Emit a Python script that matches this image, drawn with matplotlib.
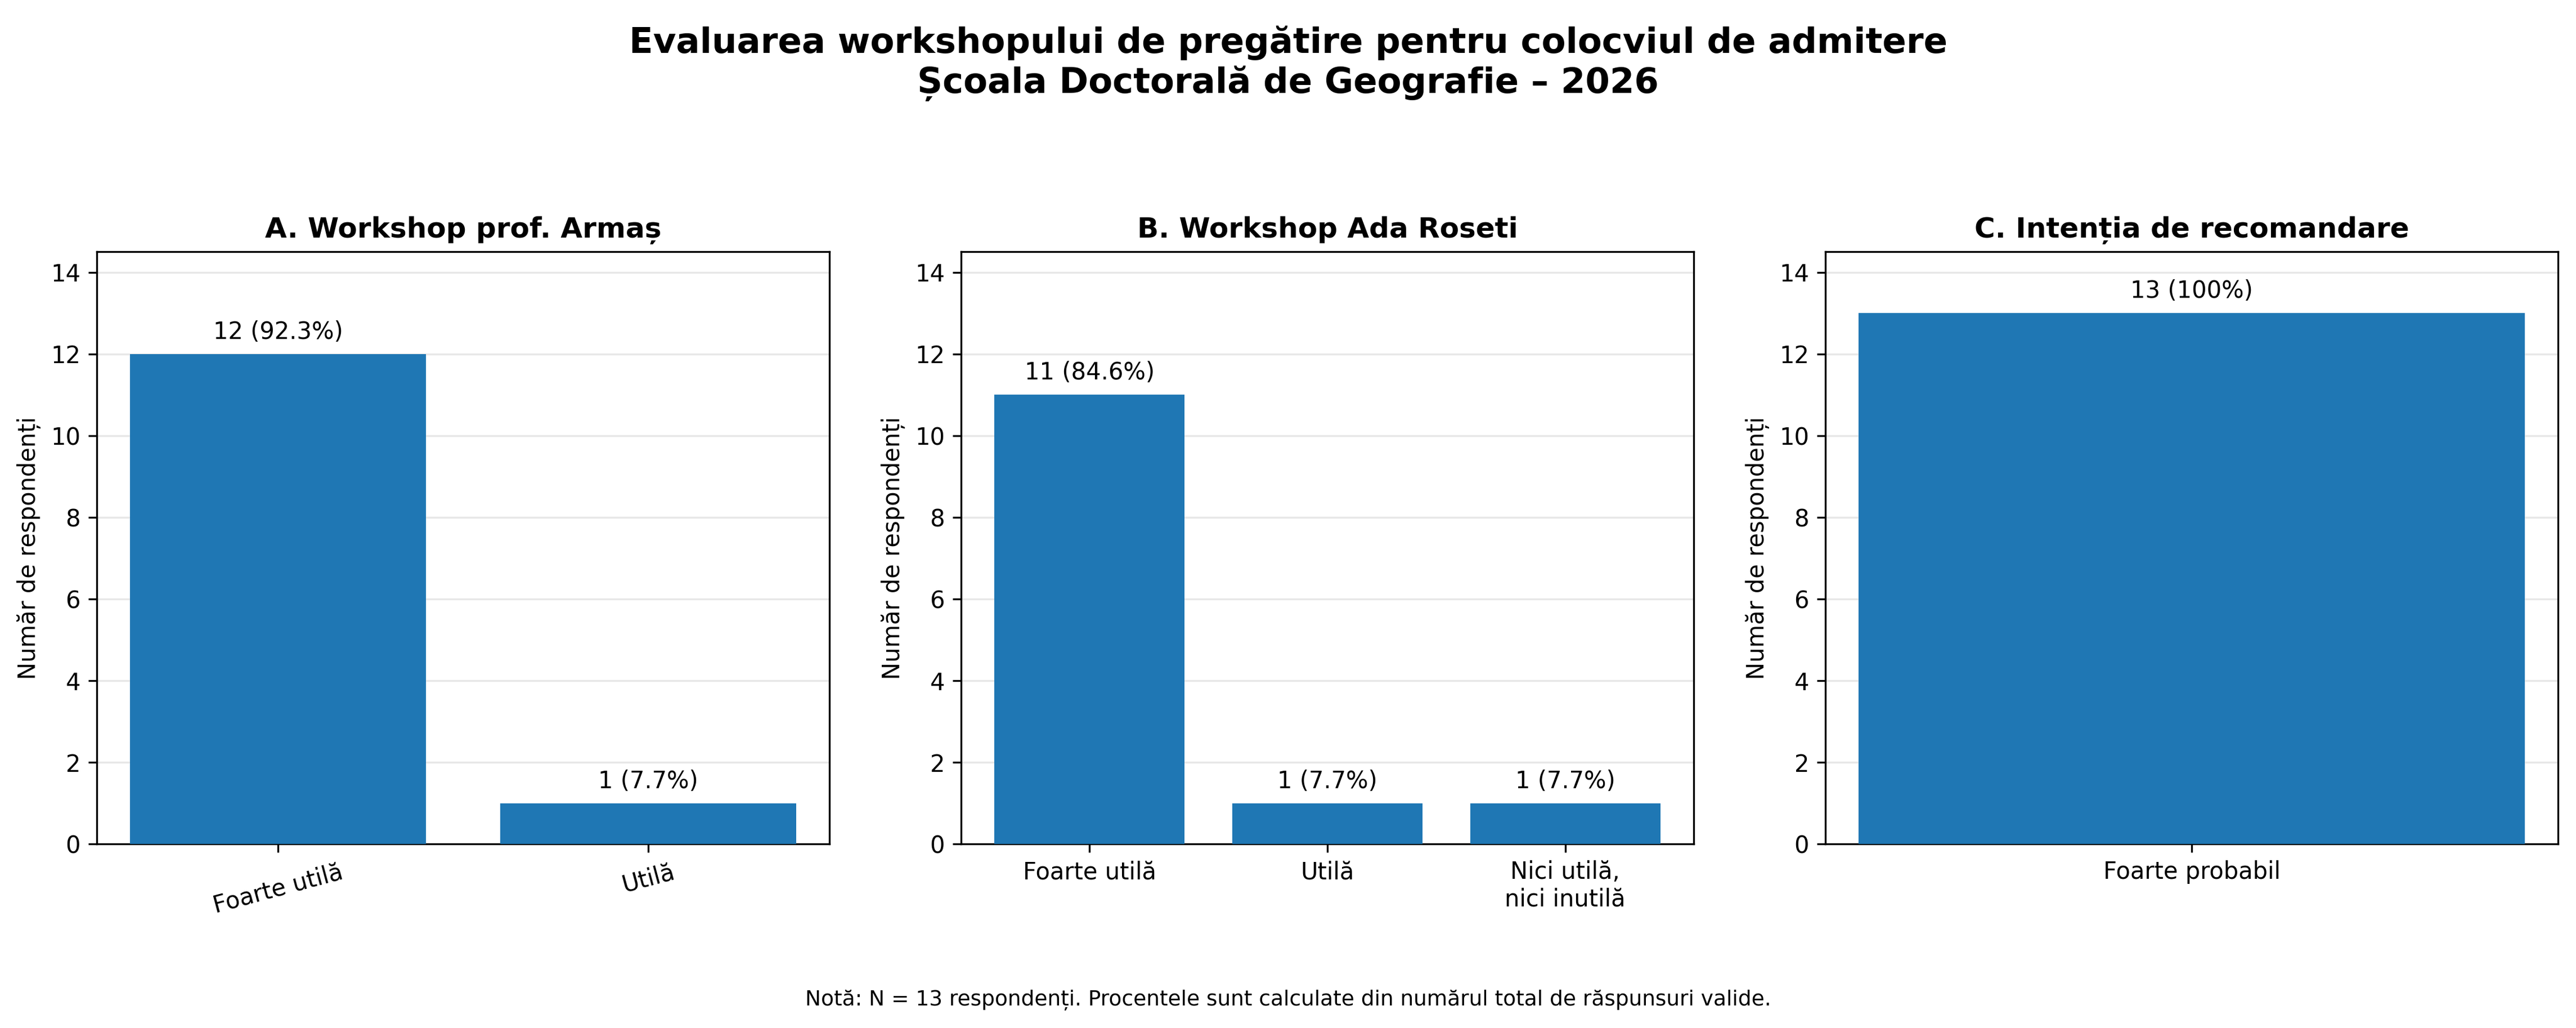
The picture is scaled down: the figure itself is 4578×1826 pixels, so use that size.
import matplotlib.pyplot as plt

# Date sondaj (N = 13)
total = 13

cat_a = ['Foarte utilă', 'Utilă']
val_a = [12, 1]

cat_b = ['Foarte utilă', 'Utilă', 'Nici utilă,\nnici inutilă']
val_b = [11, 1, 1]

cat_c = ['Foarte probabil']
val_c = [13]

titles = ['A. Workshop prof. Armaș', 'B. Workshop Ada Roseti', 'C. Intenția de recomandare']

fig, axes = plt.subplots(1, 3, figsize=(15.26, 6.087))
fig.subplots_adjust(left=0.0376, right=0.993, bottom=0.179, top=0.755, wspace=0.18)


def draw_panel(ax, cats, vals, title, rot=0):
    ax.bar(cats, vals, color='#1f77b4', zorder=3)
    for i, v in enumerate(vals):
        pct = v / total * 100
        txt = f"{v} ({pct:.0f}%)" if pct == 100 else f"{v} ({pct:.1f}%)"
        ax.text(i, v + 0.25, txt, ha='center', va='bottom', fontsize=10)
    ax.set_title(title, fontsize=12, fontweight='bold', pad=6)
    ax.set_ylabel('Număr de respondenți', fontsize=10)
    ax.set_ylim(0, 14.5)
    ax.set_yticks(range(0, 15, 2))
    ax.grid(axis='y', alpha=0.3, zorder=0)
    if rot:
        plt.setp(ax.get_xticklabels(), rotation=rot)


draw_panel(axes[0], cat_a, val_a, titles[0], rot=15)
draw_panel(axes[1], cat_b, val_b, titles[1])
draw_panel(axes[2], cat_c, val_c, titles[2])

fig.suptitle('Evaluarea workshopului de pregătire pentru colocviul de admitere\n'
             'Școala Doctorală de Geografie – 2026',
             fontsize=15, fontweight='bold', y=0.975)

fig.text(0.5, 0.022, 'Notă: N = 13 respondenți. Procentele sunt calculate din numărul total de răspunsuri valide.',
         ha='center', fontsize=9)

plt.savefig('out.png', dpi=300)
